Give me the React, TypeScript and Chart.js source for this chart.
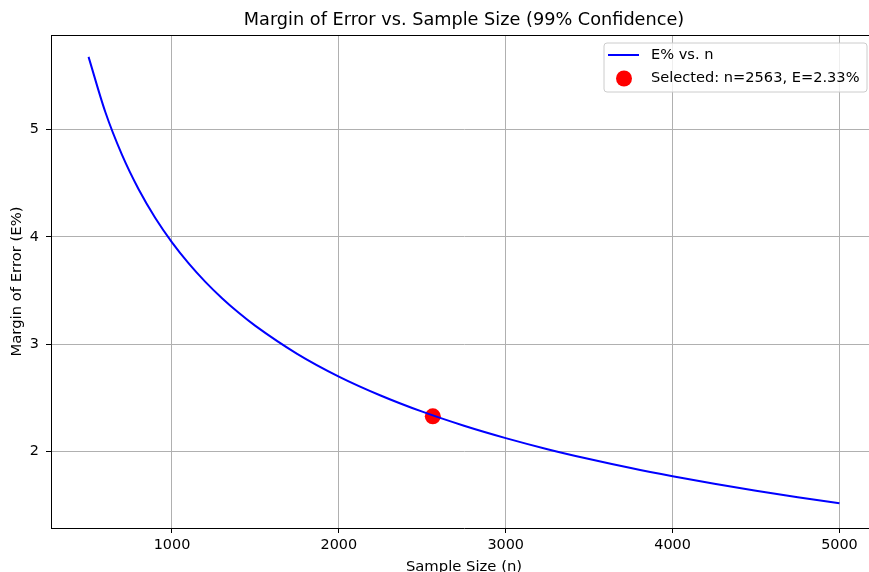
import React, { useEffect, useRef } from "react";
import { Chart, registerables } from "chart.js";

Chart.register(...registerables);

// Sample sizes (n) and margin of error (E%)
const sampleSizes = [500, 600, 700, 800, 900, 1000, 1100, 1200, 1300, 1400, 1500, 1750, 2000, 2250, 2500, 2750, 3000, 3250, 3500, 3750, 4000, 4250, 4500, 4750, 5000];
const marginPct = [5.676, 5.165, 4.766, 4.444, 4.177, 3.95, 3.754, 3.582, 3.43, 3.294, 3.172, 2.912, 2.7, 2.524, 2.373, 2.242, 2.127, 2.024, 1.932, 1.848, 1.772, 1.702, 1.637, 1.576, 1.52];

const selectedN = [2563];
const selectedE = [2.33];

const xTickValues = [1000, 2000, 3000, 4000, 5000];
const yTickValues = [2, 3, 4, 5];

const titleText = "Margin of Error vs. Sample Size (99% Confidence)";
const xTitle = "Sample Size (n)";
const yTitle = "Margin of Error (E%)";
const lineLabel = "E% vs. n";
const pointLabel = `Selected: n=${selectedN[0]}, E=${selectedE[0].toFixed(2)}%`;

const FONT = '"DejaVu Sans", sans-serif';

export default function App() {
  const ref = useRef<HTMLCanvasElement | null>(null);

  useEffect(() => {
    if (!ref.current) return;

    const framePlugin = {
      id: "frameAndLegend",
      afterDraw(chart: any) {
        const ctx = chart.ctx;
        const a = chart.chartArea;
        ctx.save();
        // title centred over the axes
        ctx.fillStyle = "#000";
        ctx.font = `17.7px ${FONT}`;
        ctx.textAlign = "center";
        ctx.textBaseline = "middle";
        ctx.fillText(titleText, (a.left + a.right) / 2, a.top - 14.5);

        // top spine
        ctx.strokeStyle = "#000";
        ctx.lineWidth = 1;
        ctx.beginPath();
        ctx.moveTo(a.left, Math.round(a.top) + 0.5);
        ctx.lineTo(a.right, Math.round(a.top) + 0.5);
        ctx.stroke();

        // legend box
        const w = 263;
        const h = 49;
        const bx = a.right - 10 - w;
        const by = a.top + 8;
        const r = 3;
        ctx.beginPath();
        ctx.moveTo(bx + r, by);
        ctx.lineTo(bx + w - r, by);
        ctx.arcTo(bx + w, by, bx + w, by + r, r);
        ctx.lineTo(bx + w, by + h - r);
        ctx.arcTo(bx + w, by + h, bx + w - r, by + h, r);
        ctx.lineTo(bx + r, by + h);
        ctx.arcTo(bx, by + h, bx, by + h - r, r);
        ctx.lineTo(bx, by + r);
        ctx.arcTo(bx, by, bx + r, by, r);
        ctx.closePath();
        ctx.fillStyle = "rgba(255,255,255,0.8)";
        ctx.fill();
        ctx.strokeStyle = "#cccccc";
        ctx.lineWidth = 1;
        ctx.stroke();

        const ds = chart.data.datasets;
        const row1 = by + 12;
        const row2 = by + 35.5;
        ctx.strokeStyle = "#0000ff";
        ctx.lineWidth = 2;
        ctx.beginPath();
        ctx.moveTo(bx + 4, row1);
        ctx.lineTo(bx + 35, row1);
        ctx.stroke();

        ctx.fillStyle = "#ff0000";
        ctx.beginPath();
        ctx.arc(bx + 20, row2, 8, 0, Math.PI * 2);
        ctx.fill();

        ctx.fillStyle = "#000";
        ctx.font = `14.6px ${FONT}`;
        ctx.textBaseline = "middle";
        ctx.textAlign = "left";
        ctx.fillText(ds[0].label, bx + 47, row1);
        ctx.fillText(ds[1].label, bx + 47, row2);
        ctx.restore();
      },
    };

    const chart = new Chart(ref.current, {
      type: "scatter",
      data: {
        datasets: [
          {
            label: lineLabel,
            data: sampleSizes.map((n, i) => ({ x: n, y: marginPct[i] })),
            showLine: true,
            borderColor: "#0000ff",
            backgroundColor: "#0000ff",
            borderWidth: 2,
            pointRadius: 0,
            cubicInterpolationMode: "monotone",
            order: 0,
          },
          {
            label: pointLabel,
            data: selectedN.map((n, i) => ({ x: n, y: selectedE[i] })),
            showLine: false,
            pointRadius: 8,
            pointBackgroundColor: "#ff0000",
            pointBorderWidth: 0,
            backgroundColor: "#ff0000",
            borderColor: "#ff0000",
            order: 1,
          },
        ],
      },
      options: {
        responsive: false,
        animation: false,
        layout: { padding: { left: 0, right: 3.5, top: 35, bottom: 0 } },
        plugins: {
          legend: { display: false },
          tooltip: { enabled: false },
          title: { display: false },
        },
        scales: {
          x: {
            type: "linear",
            min: 275,
            max: 5225,
            afterBuildTicks: (s: any) => {
              s.ticks = xTickValues.map((v) => ({ value: v }));
            },
            afterFit: (s: any) => {
              s.height = 52;
            },
            ticks: {
              color: "#000",
              font: { family: FONT, size: 14.4 },
              padding: 4,
              maxRotation: 0,
              autoSkip: false,
              callback: (v: any) => String(v),
            },
            grid: {
              color: "#b0b0b0",
              lineWidth: 1,
              tickColor: "#000",
              tickLength: 5,
              drawTicks: true,
            },
            border: { display: true, color: "#000", width: 1 },
            title: {
              display: true,
              text: xTitle,
              color: "#000",
              font: { family: FONT, size: 14.8 },
              padding: { top: 0, bottom: 4 },
            },
          },
          y: {
            type: "linear",
            min: 1.29,
            max: 5.88,
            afterBuildTicks: (s: any) => {
              s.ticks = yTickValues.map((v) => ({ value: v }));
            },
            afterFit: (s: any) => {
              s.width = 51;
            },
            ticks: {
              color: "#000",
              font: { family: FONT, size: 14.4 },
              padding: 7,
              autoSkip: false,
              callback: (v: any) => String(v),
            },
            grid: {
              color: "#b0b0b0",
              lineWidth: 1,
              tickColor: "#000",
              tickLength: 5,
              drawTicks: true,
            },
            border: { display: true, color: "#000", width: 1 },
            title: {
              display: true,
              text: yTitle,
              color: "#000",
              font: { family: FONT, size: 14.8 },
              padding: { top: 8, bottom: 0 },
            },
          },
        },
      },
      plugins: [framePlugin],
    } as any);

    return () => chart.destroy();
  }, []);

  return (
    <div
      style={{
        position: "fixed",
        left: 0,
        top: 0,
        width: 869,
        height: 572,
        overflow: "hidden",
        background: "#fff",
      }}
    >
      <canvas ref={ref} width={885} height={580} style={{ display: "block", width: 885, height: 580 }} />
    </div>
  );
}
